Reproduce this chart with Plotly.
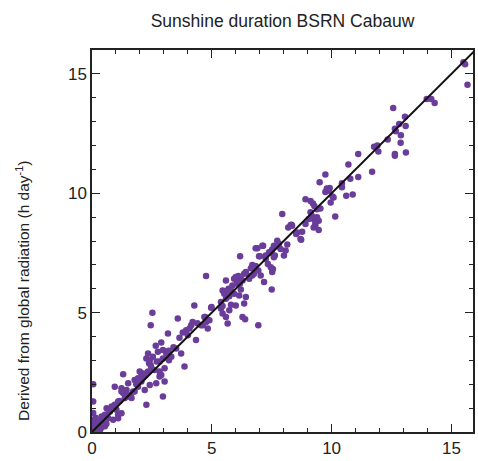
import plotly.graph_objects as go

# observed sunshine duration (h/day) vs derived from global radiation (h/day)
observed = [
    15.67, 15.50, 15.57, 13.97, 14.16, 14.30, 12.57, 13.06, 12.82, 12.64, 12.68, 13.09, 12.89,
    12.34, 12.88, 11.77, 11.91, 11.95, 11.11, 12.64, 12.64, 13.10, 10.70, 11.69, 10.78, 11.11,
    10.43, 10.43, 9.92, 9.74, 9.50, 9.80, 9.88, 9.74, 10.88, 10.61, 10.04, 9.96, 10.15, 10.08,
    8.91, 9.12, 9.22, 9.28, 9.53, 9.18, 9.25, 9.39, 9.46, 9.32, 9.25, 9.46, 8.91, 8.77,
    7.94, 8.33, 8.19, 8.53, 8.73, 8.15, 8.08, 7.73, 7.80, 7.66, 7.52, 7.39, 7.25, 7.11, 7.63,
    8.29, 8.52, 8.35, 8.56, 8.70, 9.05, 9.32, 9.12, 9.39,
    7.77, 7.59, 7.50, 7.43, 7.34, 7.46, 7.52, 7.18, 7.87, 6.90, 7.14, 7.01, 6.18,
    6.69, 6.83, 6.63, 6.94, 6.76, 6.56, 6.42, 7.04, 7.50, 4.76, 6.83, 6.97, 7.25, 7.59, 8.01, 7.55,
    5.59, 5.93, 6.11, 6.21, 6.05, 6.17, 6.28, 5.86, 5.70, 5.45, 5.52, 5.80, 5.93, 5.59, 5.73,
    5.38, 5.80, 5.45, 6.21, 6.42, 6.35, 5.73, 6.28, 4.97, 4.27, 4.73,
    6.00, 6.35, 6.56, 6.69, 6.07, 5.66, 6.14, 6.00, 5.38, 5.45, 5.59, 6.39, 6.94, 5.66,
    2.52, 2.45, 3.58, 4.99, 3.17, 3.79, 3.93, 4.07, 4.14, 4.20, 4.00, 4.34, 4.62, 4.76,
    4.83, 4.90, 4.69, 4.55,
    2.89, 2.66, 2.75, 2.96, 3.10, 3.21, 2.54, 2.34, 2.27, 2.38, 2.48, 2.82, 2.96, 3.03,
    2.61, 2.34, 2.06, 2.20, 2.82, 3.31, 3.51, 3.72, 3.86, 2.89, 1.30,
    0.05, 0.05, 2.96, 2.27, 3.03, 2.41, 2.82, 1.99, 2.13, 1.78, 1.92, 2.68, 2.41,
    0.95, 1.23, 1.44, 1.30, 1.51, 1.65, 1.71, 1.37, 1.09, 0.95, 0.82, 0.61, 0.75, 1.02,
    1.09, 1.23, 0.54, 0.40, 0.68, 0.33, 0.47, 0.26, 0.20, 0.12, 0.33, 0.54, 0.88, 1.09,
    0.05, 0.00, 1.51, 1.78, 1.92, 2.06, 2.20, 1.23,
    0.05, 0.10, 0.15, 0.05, 0.20, 0.30, 0.00, 0.08, 0.40, 0.25, 0.60, 0.15, 0.02, 0.35,
    1.60, 1.85, 2.45, 2.70, 3.40, 3.65, 4.40, 0.70, 1.15, 0.28, 0.45, 3.20, 2.15, 1.40,
]
derived = [
    14.54, 15.49, 15.40, 13.95, 13.95, 13.78, 13.57, 13.20, 12.90, 12.70, 12.60, 12.82, 12.43,
    12.25, 12.11, 11.95, 12.00, 11.75, 11.64, 11.64, 11.57, 11.71, 11.20, 10.90, 10.61, 10.68,
    10.42, 10.25, 10.22, 10.79, 10.46, 10.20, 10.10, 10.05, 9.95, 9.90, 9.86, 9.61, 9.03, 9.82,
    9.75, 9.68, 9.57, 9.47, 9.36, 9.05, 8.92, 8.99, 8.85, 8.75, 8.57, 8.46, 8.71, 8.39,
    9.13, 8.68, 8.57, 8.33, 8.05, 7.85, 7.60, 8.01, 7.88, 7.78, 7.64, 7.53, 7.39, 7.80, 7.39,
    8.67, 8.29, 8.64, 8.36, 8.08, 8.92, 8.64, 9.20, 9.33,
    7.78, 7.80, 7.60, 7.50, 7.04, 6.90, 6.70, 6.28, 7.67, 7.70, 7.80, 7.36, 7.36,
    7.00, 6.95, 6.86, 6.76, 6.63, 6.53, 6.70, 6.55, 5.97, 6.53, 7.70, 7.36, 7.25, 7.32, 7.39, 6.83,
    6.35, 6.42, 6.53, 6.42, 6.28, 6.21, 6.35, 6.14, 6.00, 5.93, 5.79, 5.93, 5.79, 5.58, 5.69,
    5.44, 5.33, 5.28, 5.97, 5.65, 5.38, 5.10, 4.82, 5.20, 5.30, 4.82,
    6.49, 6.63, 6.42, 6.55, 6.21, 5.93, 5.72, 5.30, 5.17, 4.96, 4.82, 4.72, 4.47, 4.54,
    5.00, 4.47, 4.75, 5.24, 4.13, 4.17, 4.26, 4.33, 4.47, 4.61, 4.05, 3.85, 4.47, 4.61,
    4.33, 4.68, 4.82, 4.47,
    3.75, 3.61, 3.36, 3.43, 3.29, 3.01, 3.15, 3.29, 3.08, 2.88, 2.67, 2.95, 3.08, 2.67,
    2.60, 2.53, 2.46, 2.36, 2.32, 3.15, 3.50, 3.29, 2.74, 2.39, 2.42,
    2.00, 1.28, 1.49, 1.14, 2.11, 3.01, 2.53, 2.53, 2.32, 2.18, 2.25, 2.04, 1.97,
    1.90, 1.83, 1.76, 1.63, 1.49, 1.42, 1.70, 1.42, 1.28, 1.14, 1.07, 1.00, 0.86, 0.93,
    0.72, 0.79, 0.72, 0.65, 0.58, 0.45, 0.38, 0.30, 0.24, 0.17, 0.10, 0.24, 0.51, 0.58,
    0.45, 0.10, 2.04, 1.70, 1.90, 2.11, 1.76, 1.70,
    0.05, 0.30, 0.60, 0.80, 0.00, 0.05, 0.00, 0.15, 0.20, 0.40, 0.35, 0.02, 0.50, 0.12,
    1.55, 2.00, 2.80, 2.95, 3.55, 3.95, 4.55, 0.90, 1.30, 0.22, 0.55, 3.40, 2.45, 1.55,
]
one_to_one = [0, 16]

fig = go.Figure()

fig.add_trace(go.Scatter(
    x=observed,
    y=derived,
    mode="markers",
    marker=dict(color="#6a3d9a", size=6.5, line_width=0),
    showlegend=False,
))

fig.add_trace(go.Scatter(
    x=one_to_one,
    y=one_to_one,
    mode="lines",
    line=dict(color="#111111", width=2),
    showlegend=False,
))

axis_style = dict(
    showline=True,
    linecolor="#222222",
    linewidth=1.5,
    mirror="ticks",
    ticks="inside",
    ticklen=8,
    tickwidth=1.2,
    tickcolor="#222222",
    showgrid=False,
    zeroline=False,
    tick0=0,
    dtick=5,
    minor=dict(dtick=1, tick0=0, ticks="inside", ticklen=4, tickcolor="#222222", tickwidth=1, showgrid=False),
    tickfont=dict(size=17, color="#222222"),
)

fig.update_xaxes(range=[0, 15.9], **axis_style)
fig.update_yaxes(range=[0, 16], **axis_style)

fig.add_annotation(
    text="Derived from global radiation (h day<sup>-1</sup>)",
    xref="paper", yref="paper",
    x=-0.183, y=0.37,
    xanchor="center", yanchor="middle",
    textangle=-90,
    showarrow=False,
    font=dict(size=15.5, color="#222222"),
)

fig.update_layout(
    width=478,
    height=461,
    margin=dict(l=92, r=3, t=50, b=27),
    plot_bgcolor="white",
    paper_bgcolor="white",
    font=dict(family="Liberation Sans, Arial, sans-serif", color="#222222"),
    title=dict(
        text="Sunshine duration BSRN Cabauw",
        x=0.5, xref="paper",
        y=0.955, yref="container",
        xanchor="center", yanchor="middle",
        font=dict(size=17.5, color="#222222"),
    ),
)

fig.write_html("out.html", config={"displayModeBar": False},
               post_script="document.body.style.margin='0';")
